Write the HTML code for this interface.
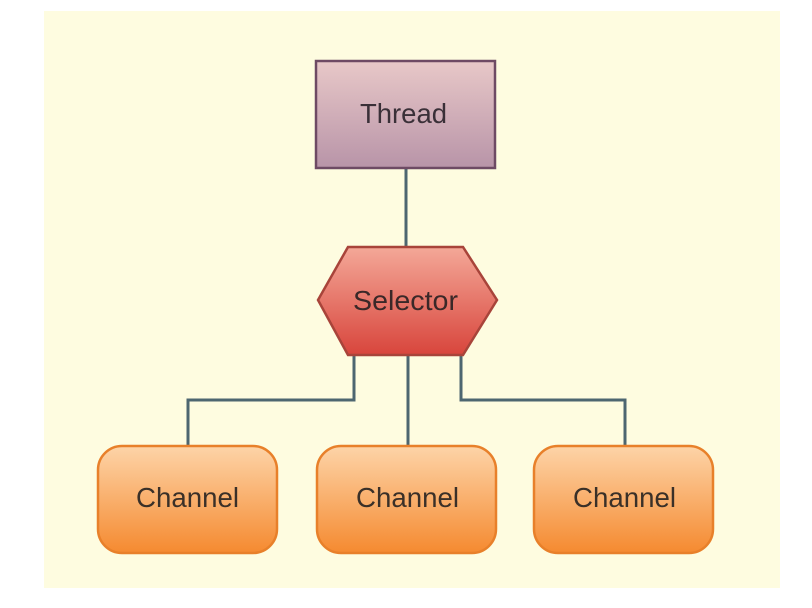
<!DOCTYPE html>
<html><head><style>
body{margin:0;background:#fff;width:812px;height:608px;overflow:hidden}
</style></head><body>
<svg width="812" height="608" xmlns="http://www.w3.org/2000/svg" style="display:block">
<defs>
<linearGradient id="gt" x1="0" y1="0" x2="0" y2="1"><stop offset="0" stop-color="#e8c8c8"/><stop offset="1" stop-color="#b894a8"/></linearGradient>
<linearGradient id="gs" x1="0" y1="0" x2="0" y2="1"><stop offset="0" stop-color="#f4a898"/><stop offset="1" stop-color="#d8453c"/></linearGradient>
<linearGradient id="gc" x1="0" y1="0" x2="0" y2="1"><stop offset="0" stop-color="#fdd4a8"/><stop offset="1" stop-color="#f58a30"/></linearGradient>
</defs>
<rect x="44" y="11" width="736" height="577" fill="#fefce0"/>
<g stroke="#4d6670" stroke-width="3" fill="none">
<line x1="406" y1="168" x2="406" y2="248"/>
<polyline points="354,355 354,400 188,400 188,446"/>
<line x1="408" y1="355" x2="408" y2="446"/>
<polyline points="461,355 461,400 625,400 625,446"/>
</g>
<rect x="316" y="61" width="179" height="107" fill="url(#gt)" stroke="#6e4a64" stroke-width="2.5"/>
<g font-family="Liberation Sans, sans-serif" font-size="28" lengthAdjust="spacingAndGlyphs">
<text x="360" y="123" textLength="87" lengthAdjust="spacingAndGlyphs" fill="#3a3038">Thread</text>
</g>
<polygon points="348,247 463,247 497,300 463,355 348,355 318,300" fill="url(#gs)" stroke="#a8443a" stroke-width="2.5"/>
<text x="353" y="310" font-family="Liberation Sans, sans-serif" font-size="28" textLength="105" lengthAdjust="spacingAndGlyphs" fill="#3a2828">Selector</text>
<g stroke="#e8802a" stroke-width="2.5" fill="url(#gc)">
<rect x="98" y="446" width="179" height="107" rx="24"/>
<rect x="317" y="446" width="179" height="107" rx="24"/>
<rect x="534" y="446" width="179" height="107" rx="24"/>
</g>
<g font-family="Liberation Sans, sans-serif" font-size="28" fill="#3a3028">
<text x="136" y="507" textLength="103" lengthAdjust="spacingAndGlyphs">Channel</text>
<text x="356" y="507" textLength="103" lengthAdjust="spacingAndGlyphs">Channel</text>
<text x="573" y="507" textLength="103" lengthAdjust="spacingAndGlyphs">Channel</text>
</g>
</svg>
</body></html>
